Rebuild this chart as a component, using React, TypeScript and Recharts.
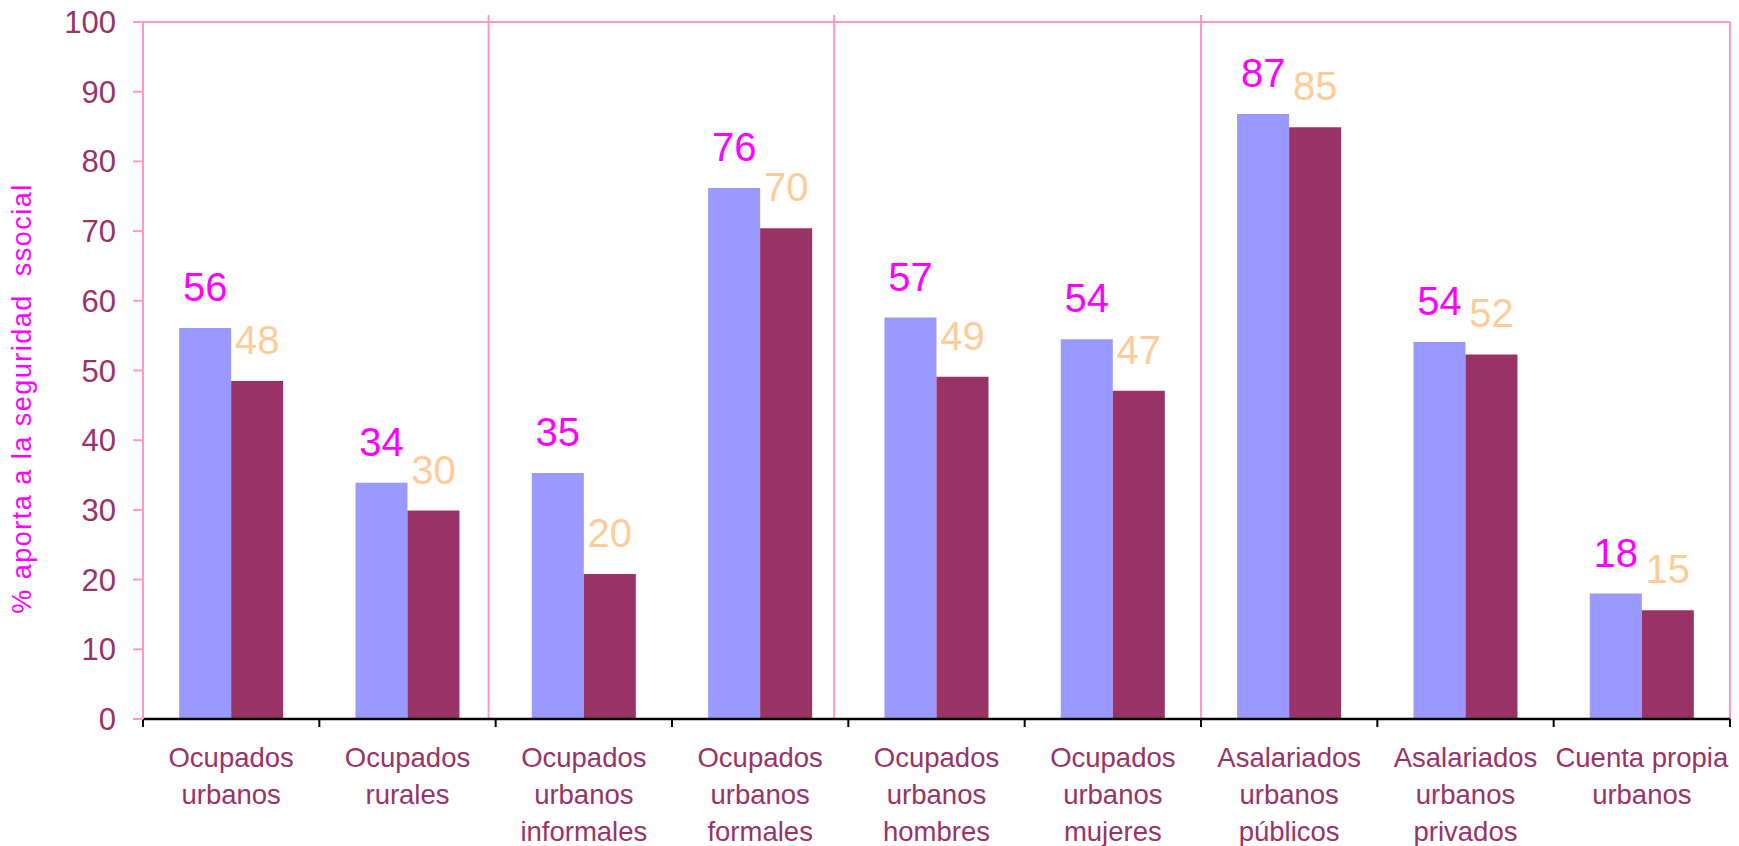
import React from "react";
import { BarChart, Bar, XAxis, YAxis, LabelList, ReferenceLine } from "recharts";

const categories = [
    "Ocupados\nurbanos",
    "Ocupados\nrurales",
    "Ocupados\nurbanos\ninformales",
    "Ocupados\nurbanos\nformales",
    "Ocupados\nurbanos\nhombres",
    "Ocupados\nurbanos\nmujeres",
    "Asalariados\nurbanos\npúblicos",
    "Asalariados\nurbanos\nprivados",
    "Cuenta propia\nurbanos",
];
const serie1 = [56.1, 33.9, 35.3, 76.2, 57.6, 54.5, 86.8, 54.1, 18.0];
const serie2 = [48.5, 29.9, 20.8, 70.4, 49.1, 47.1, 84.9, 52.3, 15.6];
const etiquetas1 = [56, 34, 35, 76, 57, 54, 87, 54, 18];
const etiquetas2 = [48, 30, 20, 70, 49, 47, 85, 52, 15];
const yTicks = [0, 10, 20, 30, 40, 50, 60, 70, 80, 90, 100];
const separadores = [1.96, 3.92, 6];
const yTitle = "% aporta a la seguridad  ssocial";

const FONT = "'Liberation Sans', Arial, sans-serif";
const PINK = "#FF99CC";
const WINE = "#993366";

const data = categories.map((cat, i) => ({
    cat,
    pos: i,
    s1: serie1[i],
    s2: serie2[i],
    l1: etiquetas1[i],
    l2: etiquetas2[i],
}));
const gridTicks = categories.map((_, i) => i).concat(categories.length);

function CatTick(props: any) {
    const { x, y, payload } = props;
    const lines = String(payload.value).split("\n");
    return (
        <text textAnchor="middle" fill={WINE} fontSize={27.5} fontFamily={FONT}>
            {lines.map((l, i) => (
                <tspan key={i} x={x} y={y + 47 + i * 37}>
                    {l}
                </tspan>
            ))}
        </text>
    );
}

function YTitle(props: any) {
    const vb = props.viewBox || { x: 0, y: 22, height: 697 };
    const cx = 31;
    const cy = vb.y + vb.height / 2 + 28;
    return (
        <text
            x={cx}
            y={cy}
            transform={`rotate(-90, ${cx}, ${cy})`}
            textAnchor="middle"
            fill="#FF00FF"
            fontSize={27}
            fontFamily={FONT}
            style={{ whiteSpace: "pre", letterSpacing: 1.5 }}
        >
            {yTitle}
        </text>
    );
}

export default function App() {
    return (
        <div>
            <style>{"body{margin:0}"}</style>
            <BarChart
                width={1739}
                height={846}
                data={data}
                margin={{ top: 22, right: 9, left: 0, bottom: 125 }}
                barCategoryGap="20.5%"
                barGap={0}
            >
                <XAxis
                    xAxisId="a"
                    dataKey="pos"
                    type="number"
                    domain={[0, categories.length]}
                    allowDataOverflow
                    ticks={gridTicks}
                    height={1}
                    tickSize={8}
                    tickFormatter={() => ""}
                    axisLine={{ stroke: "#000000", strokeWidth: 2.5 }}
                    tickLine={{ stroke: "#000000", strokeWidth: 2 }}
                />
                <XAxis
                    xAxisId="b"
                    dataKey="cat"
                    height={1}
                    interval={0}
                    axisLine={false}
                    tickLine={false}
                    tickSize={0}
                    tickMargin={0}
                    tick={<CatTick />}
                />
                <YAxis
                    yAxisId="v"
                    domain={[0, 100]}
                    ticks={yTicks}
                    width={143}
                    tickSize={10}
                    tickMargin={17}
                    axisLine={{ stroke: PINK, strokeWidth: 2 }}
                    tickLine={{ stroke: PINK, strokeWidth: 2 }}
                    tick={{ fill: WINE, fontSize: 31, fontFamily: FONT }}
                    label={{ content: <YTitle /> }}
                />
                <ReferenceLine xAxisId="a" yAxisId="v" y={100} stroke={PINK} strokeWidth={2} />
                <ReferenceLine xAxisId="a" yAxisId="v" x={categories.length} stroke={PINK} strokeWidth={2} />
                {separadores.map((s) => (
                    <ReferenceLine
                        key={s}
                        xAxisId="a"
                        yAxisId="v"
                        segment={[
                            { x: s, y: 0 },
                            { x: s, y: 101 },
                        ]}
                        ifOverflow="visible"
                        stroke={PINK}
                        strokeWidth={2}
                    />
                ))}
                <Bar xAxisId="b" yAxisId="v" dataKey="s1" fill="#9999FF" isAnimationActive={false}>
                    <LabelList dataKey="l1" position="top" offset={27} fill="#FF00FF" fontSize={40} fontFamily={FONT} />
                </Bar>
                <Bar xAxisId="b" yAxisId="v" dataKey="s2" fill={WINE} isAnimationActive={false}>
                    <LabelList dataKey="l2" position="top" offset={27} fill="#FFCC99" fontSize={40} fontFamily={FONT} />
                </Bar>
            </BarChart>
        </div>
    );
}
